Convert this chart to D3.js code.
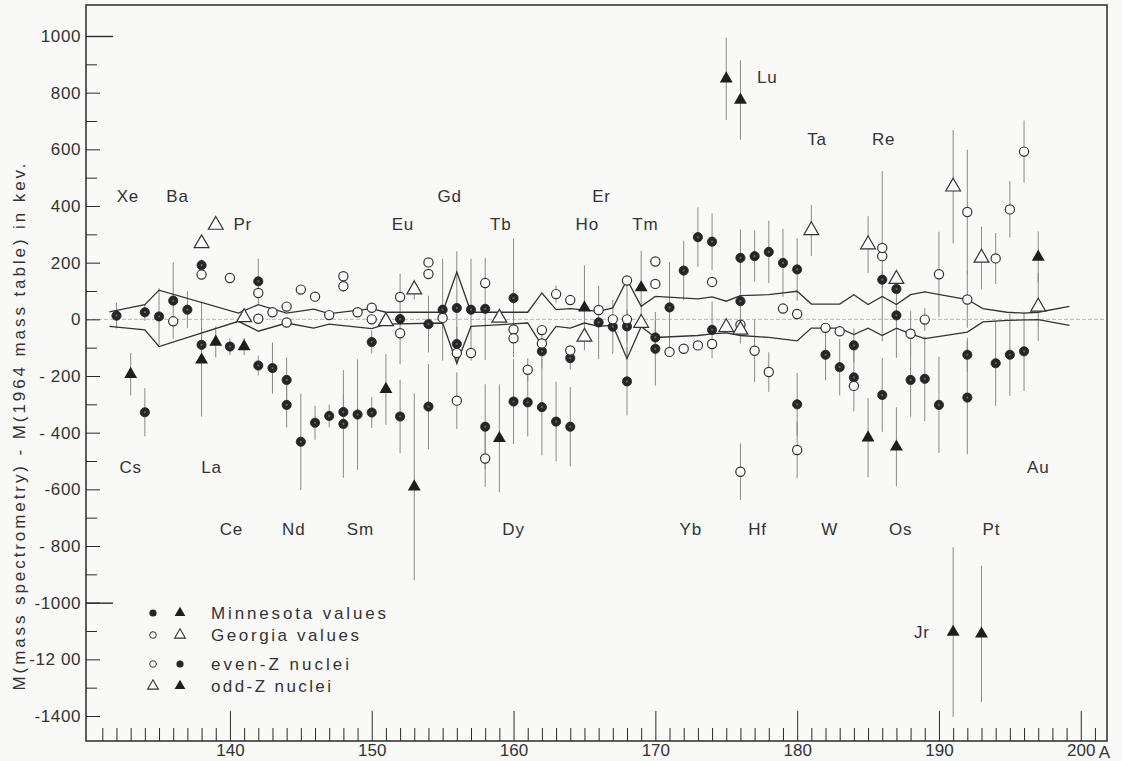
<!DOCTYPE html>
<html>
<head>
<meta charset="utf-8">
<script src="https://cdn.jsdelivr.net/npm/d3@7"></script>
<style>
  html, body { margin: 0; padding: 0; background: #f9f9f8; }
  svg { display: block; }
  text { font-family: "Liberation Sans", "DejaVu Sans", sans-serif; fill: #333; }
</style>
</head>
<body>
<svg id="chart" width="1122" height="761"></svg>
<script>
// Mass differences M(mass spectrometry) - M(1964 mass table), keV, by mass number A.
// Each entry: [A, difference, error]

// Minnesota values, even-Z nuclei (filled circles)
const minnesotaEven = [
  [132, 13, 45], [134, 25, 30], [134, -328, 85], [135, 10, 100], [136, 66, 135],
  [137, 34, 65], [138, 191, 20], [138, -90, 60], [140, -96, 30], [142, 134, 80],
  [142, -163, 35], [143, -172, 90], [144, -214, 80], [144, -302, 80], [145, -432, 170],
  [146, -365, 60], [147, -341, 40], [148, -327, 60], [148, -369, 190], [149, -336, 195],
  [150, -80, 40], [150, -329, 55], [152, 1, 160], [152, -343, 130], [154, -17, 100],
  [154, -308, 150], [155, 34, 180], [156, 40, 200], [156, -87, 60], [157, 34, 180],
  [158, 37, 180], [158, -379, 150], [160, 75, 210], [160, -290, 150], [161, -293, 120],
  [162, -113, 60], [162, -310, 170], [163, -361, 140], [164, -137, 40], [164, -379, 140],
  [166, -11, 130], [167, -26, 95], [168, -25, 60], [168, -219, 120], [170, -64, 60],
  [170, -104, 130], [171, 42, 160], [172, 172, 105], [173, 290, 105], [174, 274, 100],
  [174, -37, 100], [176, 217, 100], [176, 64, 150], [177, 223, 90], [178, 238, 110],
  [179, 199, 120], [180, 176, 110], [180, -300, 110], [182, -125, 90], [183, -169, 100],
  [184, -92, 60], [184, -205, 120], [186, 140, 30], [186, -267, 130], [187, 14, 150],
  [187, 107, 0], [188, -214, 130], [189, -210, 150], [190, -302, 170], [192, -125, 60],
  [192, -276, 200], [194, -155, 150], [195, -125, 145], [196, -113, 140]
];

// Georgia values, even-Z nuclei (open circles)
const georgiaEven = [
  [136, -7, 0], [138, 158, 0], [140, 146, 18], [142, 93, 0], [142, 2, 0],
  [143, 25, 0], [144, 45, 0], [144, -11, 0], [145, 105, 0], [146, 80, 0],
  [147, 15, 0], [148, 152, 0], [148, 117, 20], [149, 25, 0], [150, 41, 0],
  [150, 0, 0], [152, 79, 0], [152, -49, 0], [154, 201, 0], [154, 160, 0],
  [155, 5, 0], [156, -119, 0], [156, -287, 100], [157, -119, 0], [158, 128, 0],
  [158, -491, 100], [160, -36, 0], [160, -67, 0], [161, -178, 40], [162, -38, 0],
  [162, -85, 0], [163, 89, 30], [164, 68, 0], [164, -110, 0], [166, 33, 0],
  [167, 0, 0], [168, 137, 0], [168, 0, 140], [170, 204, 0], [170, 125, 0],
  [171, -115, 0], [172, -104, 0], [173, -92, 0], [174, 132, 0], [174, -87, 0],
  [176, -19, 0], [176, -538, 100], [177, -111, 110], [178, -186, 70], [179, 38, 0],
  [180, 19, 0], [180, -461, 100], [182, -30, 0], [183, -42, 0], [184, -235, 0],
  [186, 223, 300], [186, 252, 0], [188, -51, 80], [189, -1, 40], [190, 159, 150],
  [192, 379, 220], [192, 70, 100], [194, 215, 90], [195, 388, 100], [196, 592, 110]
];

// Minnesota values, odd-Z nuclei (filled triangles)
const minnesotaOdd = [
  [133, -194, 75], [138, -143, 200], [139, -80, 55], [141, -96, 30], [151, -247, 125],
  [153, -591, 330], [159, -420, 190], [165, 41, 150], [169, 112, 130], [175, 849, 145],
  [176, 774, 140], [185, -418, 140], [187, -450, 140], [191, -1104, 300], [193, -1110, 240],
  [197, 220, 90]
];

// Georgia values, odd-Z nuclei (open triangles)
const georgiaOdd = [
  [138, 268, 0], [139, 333, 0], [141, 7, 0], [151, -7, 0], [153, 105, 35],
  [159, 5, 0], [165, -62, 0], [169, -13, 0], [175, -28, 0], [176, -37, 0],
  [181, 314, 90], [185, 264, 100], [187, 142, 0], [191, 468, 200], [193, 217, 110],
  [197, 44, 120]
];

// Error band of the 1964 mass table: [A, keV]
const upperBand = [
  [131.5, 26], [134, 52], [135, 103], [140.6, 22], [142, 52], [144, 22], [145.9, 36],
  [147, 20], [150, 38], [151, 25], [155, 25], [156, 167], [157, 25], [161, 25],
  [162, 93], [163, 34], [164, 38], [166, 28], [167, 40], [168, 140], [169, 46],
  [170, 81], [173, 72], [174, 79], [175, 64], [176, 84], [178, 87], [180, 99],
  [181, 54], [183, 54], [184, 87], [185, 52], [186, 81], [187, 52], [188, 87],
  [189, 97], [192, 70], [193.1, 38], [194.8, 25], [196, 22], [197, 25], [199.2, 46]
];
const lowerBand = [
  [131.5, -25], [134, -37], [135, -96], [140.6, -7], [142, -42], [144, -13], [145.9, -31],
  [147, -17], [150, -33], [151, -17], [155, -13], [156, -155], [157, -25], [161, -13],
  [162, -92], [163, -25], [164, -31], [165, -13], [166, -25], [167, -21], [168, -139],
  [169, -25], [170, -64], [173, -57], [174, -51], [175, -48], [176, -57], [178, -64],
  [180, -76], [181, -31], [183, -31], [184, -54], [185, -31], [186, -57], [187, -31],
  [188, -51], [189, -68], [192, -45], [193.1, -9], [194.8, -4], [197, -1], [199.2, -21]
];

// Element symbols placed at [A, keV]
const elementLabels = [
  ["Xe", 132.8, 433], ["Ba", 136.3, 433], ["Pr", 140.9, 334], ["Cs", 133.0, -523],
  ["La", 138.7, -523], ["Ce", 140.1, -742], ["Nd", 144.5, -742], ["Sm", 149.2, -742],
  ["Eu", 152.2, 334], ["Gd", 155.5, 433], ["Tb", 159.1, 334], ["Ho", 165.2, 334],
  ["Er", 166.2, 433], ["Tm", 169.3, 334], ["Dy", 160.0, -742], ["Yb", 172.5, -742],
  ["Hf", 177.2, -742], ["Lu", 177.9, 853], ["Ta", 181.4, 634], ["Re", 186.1, 634],
  ["W", 182.3, -742], ["Os", 187.3, -742], ["Pt", 193.7, -742], ["Au", 197.0, -523],
  ["Jr", 188.8, -1106]
];

// Axis ticks
const yMajorTicks = [1000, 800, 600, 400, 200, 0, -200, -400, -600, -800, -1000, -1200, -1400];
const yTickLabels = ["1000", "800", "600", "400", "200", "0", "- 200", "- 400", "-600", "- 800", "-1000", "-12 00", "-1400"];
const yMinorTicks = [900, 700, 500, 300, 100, -100, -300, -500, -700, -900, -1100, -1300];
const yLongTicks = [1000, -1000];
const xMajorTicks = [140, 150, 160, 170, 180, 190, 200];
const xTickLabels = ["140", "150", "160", "170", "180", "190", "200"];
const xMinorTicks = d3.range(131, 202).filter(a => a % 10 !== 0);

const legendRows = [
  { marks: ["mc", "mt"], text: "Minnesota values" },
  { marks: ["gc", "gt"], text: "Georgia values" },
  { marks: ["gc", "mc"], text: "even-Z nuclei" },
  { marks: ["gt", "mt"], text: "odd-Z nuclei" }
];

// ---- drawing ----
const svg = d3.select("#chart");
const frame = { left: 86, right: 1107, top: 5, bottom: 741 };
const x = d3.scaleLinear().domain([129.85, 201.85]).range([frame.left, frame.right]);
const y = d3.scaleLinear().domain([-1400, 1000]).range([716, 36]);

const ink = "#2a2a2a";

// zero reference line
svg.append("line")
  .attr("x1", frame.left).attr("x2", frame.right)
  .attr("y1", y(0)).attr("y2", y(0))
  .attr("stroke", "#b8b8b8").attr("stroke-width", 1).attr("stroke-dasharray", "4,2");

// y axis ticks (drawn inward) and labels
function styleAxis(g) {
  g.select(".domain").remove();
  g.selectAll(".tick line").attr("stroke", ink).attr("stroke-width", 1);
}
svg.append("g").attr("transform", `translate(${frame.left},0)`)
  .call(d3.axisLeft(y).tickValues(yMajorTicks).tickSize(-14).tickPadding(5)
    .tickFormat((d, i) => yTickLabels[i]))
  .call(styleAxis)
  .call(g => g.selectAll("text").attr("font-size", 17).attr("letter-spacing", 0.6)
    .attr("fill", "#333").style("font-family", "'Liberation Sans', sans-serif"));
svg.append("g").attr("transform", `translate(${frame.left},0)`)
  .call(d3.axisLeft(y).tickValues(yMinorTicks).tickSize(-11).tickFormat(""))
  .call(styleAxis);
svg.append("g").attr("transform", `translate(${frame.left},0)`)
  .call(d3.axisLeft(y).tickValues(yLongTicks).tickSize(-27).tickFormat(""))
  .call(styleAxis)
  .call(g => g.selectAll(".tick line").attr("stroke-width", 1.4));

// x axis ticks and labels
svg.append("g").attr("transform", `translate(0,${frame.bottom})`)
  .call(d3.axisBottom(x).tickValues(xMajorTicks).tickSize(-30).tickPadding(6)
    .tickFormat((d, i) => xTickLabels[i]))
  .call(styleAxis)
  .call(g => g.selectAll("text").attr("font-size", 17).attr("dy", "0.55em")
    .attr("fill", "#333").style("font-family", "'Liberation Sans Narrow', 'Liberation Sans', sans-serif"));
svg.append("g").attr("transform", `translate(0,${frame.bottom})`)
  .call(d3.axisBottom(x).tickValues(xMinorTicks).tickSize(-13).tickFormat(""))
  .call(styleAxis);
svg.append("text").attr("x", x(200) + 18).attr("y", frame.bottom + 17)
  .attr("font-size", 17).attr("text-anchor", "start")
  .style("font-family", "'Liberation Sans Narrow', 'Liberation Sans', sans-serif").text("A");

// frame
svg.append("rect")
  .attr("x", frame.left).attr("y", frame.top)
  .attr("width", frame.right - frame.left).attr("height", frame.bottom - frame.top)
  .attr("fill", "none").attr("stroke", ink).attr("stroke-width", 1.5);

// y axis title
svg.append("text")
  .attr("transform", `translate(19,${427}) rotate(-90)`)
  .attr("text-anchor", "middle").attr("dominant-baseline", "central")
  .attr("font-size", 17).attr("textLength", 527).attr("lengthAdjust", "spacing")
  .text("M(mass spectrometry) - M(1964 mass table) in kev.");

// error bars
const allSeries = [
  { data: minnesotaEven, kind: "mc" },
  { data: georgiaEven, kind: "gc" },
  { data: minnesotaOdd, kind: "mt" },
  { data: georgiaOdd, kind: "gt" }
];
const bars = svg.append("g").attr("stroke", "#8a8a8a").attr("stroke-width", 1);
allSeries.forEach(s => {
  bars.selectAll(null).data(s.data.filter(d => d[2] > 0)).join("line")
    .attr("x1", d => x(d[0])).attr("x2", d => x(d[0]))
    .attr("y1", d => y(d[1] + d[2])).attr("y2", d => y(d[1] - d[2]));
});

// mass-table error band
const bandLine = d3.line().x(d => x(d[0])).y(d => y(d[1]));
[upperBand, lowerBand].forEach(b => {
  svg.append("path").attr("d", bandLine(b))
    .attr("fill", "none").attr("stroke", "#333").attr("stroke-width", 1.3);
});

// markers
const triFilled = d3.symbol().type(d3.symbolTriangle).size(72);
const triOpen = d3.symbol().type(d3.symbolTriangle).size(95);
function drawMark(g, kind, cx, cy) {
  if (kind === "mc") {
    g.append("circle").attr("cx", cx).attr("cy", cy).attr("r", 4.6)
      .attr("fill", "#262626").attr("stroke", "#1e1e1e").attr("stroke-width", 0.8);
    g.append("circle").attr("cx", cx).attr("cy", cy).attr("r", 1.1).attr("fill", "#666");
  } else if (kind === "gc") {
    g.append("circle").attr("cx", cx).attr("cy", cy).attr("r", 4.6)
      .attr("fill", "#fbfbfb").attr("stroke", "#333").attr("stroke-width", 1.2);
  } else if (kind === "mt") {
    g.append("path").attr("d", triFilled()).attr("transform", `translate(${cx},${cy})`)
      .attr("fill", "#1e1e1e");
  } else {
    g.append("path").attr("d", triOpen()).attr("transform", `translate(${cx},${cy})`)
      .attr("fill", "#fbfbfb").attr("stroke", "#333").attr("stroke-width", 1.2);
  }
}
const marks = svg.append("g");
allSeries.forEach(s => {
  s.data.forEach(d => drawMark(marks, s.kind, x(d[0]), y(d[1])));
});

// element symbols
svg.append("g").selectAll("text").data(elementLabels).join("text")
  .attr("x", d => x(d[1])).attr("y", d => y(d[2]))
  .attr("text-anchor", "middle").attr("dominant-baseline", "central")
  .attr("font-size", 17).attr("letter-spacing", 0.8)
  .text(d => d[0]);

// legend
const legend = svg.append("g").attr("transform", "translate(153,613)");
const legendTextLen = [175, 148, 138, 120];
const rowY = [0, 22, 51, 73];
legendRows.forEach((r, i) => {
  const ly = rowY[i];
  r.marks.forEach((k, j) => {
    const smallCircle = (k === "gc" && j === 0);
    if (smallCircle) {
      legend.append("circle").attr("cx", 0).attr("cy", ly).attr("r", 3.3)
        .attr("fill", "#fbfbfb").attr("stroke", "#333").attr("stroke-width", 1);
    } else if (k === "mc") {
      legend.append("circle").attr("cx", j * 27).attr("cy", ly).attr("r", 3.6).attr("fill", "#262626");
    } else if (k === "gc") {
      legend.append("circle").attr("cx", j * 27).attr("cy", ly).attr("r", 3.3)
        .attr("fill", "#fbfbfb").attr("stroke", "#333").attr("stroke-width", 1);
    } else if (k === "mt") {
      legend.append("path").attr("d", d3.symbol().type(d3.symbolTriangle).size(50)())
        .attr("transform", `translate(${j * 27},${ly})`).attr("fill", "#1e1e1e");
    } else {
      legend.append("path").attr("d", d3.symbol().type(d3.symbolTriangle).size(50)())
        .attr("transform", `translate(${j * 27},${ly})`)
        .attr("fill", "none").attr("stroke", "#333").attr("stroke-width", 1.1);
    }
  });
  legend.append("text").attr("x", 58).attr("y", ly)
    .attr("dominant-baseline", "central").attr("font-size", 17)
    .attr("textLength", legendTextLen[i]).attr("lengthAdjust", "spacing")
    .text(r.text);
});
</script>
</body>
</html>
